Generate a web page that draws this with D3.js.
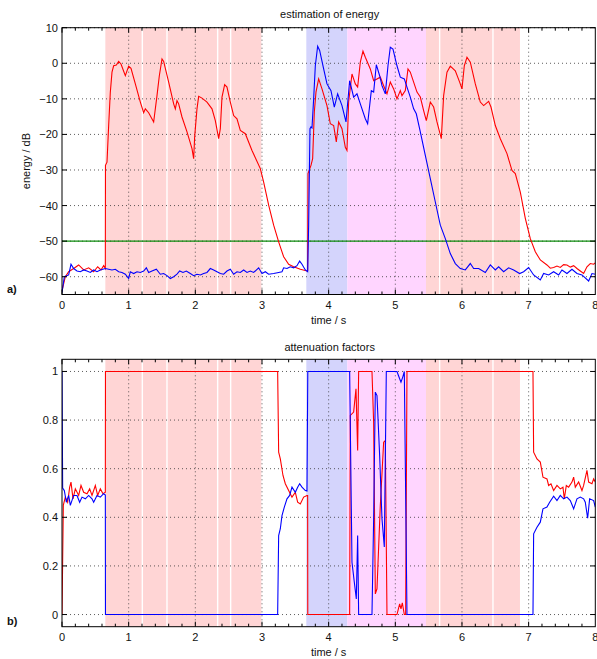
<!DOCTYPE html>
<html lang="en">
<head>
<meta charset="UTF-8">
<title>energy and attenuation</title>
<script src="https://d3js.org/d3.v7.min.js"></script>
<style>
  body { margin: 0; background: #fff; }
  text { font-family: "Liberation Sans", Arial, Helvetica, sans-serif; fill: #111; }
</style>
</head>
<body>
<script>
// ---- data ----
const timeTicks = [0, 1, 2, 3, 4, 5, 6, 7, 8];
const dbTicks = [10, 0, -10, -20, -30, -40, -50, -60];
const attTicks = [0, 0.2, 0.4, 0.6, 0.8, 1];
const threshold = -50;

// shaded segments (time in s)
const pinkSpans = [[0.65, 2.99], [5.46, 6.87]];
const blueSpans = [[3.665, 4.28]];
const magentaSpans = [[4.28, 5.46]];
const gapTimes = [1.205, 1.575, 2.335, 2.53, 5.665, 6.465];

// energy estimate, red [t, dB]
const energyRed = [
  [0, -64], [0.05, -60], [0.1, -58.6], [0.175, -57.7], [0.25, -56.7], [0.325, -58.1], [0.4, -57.5],
  [0.475, -58.6], [0.535, -57.2], [0.585, -58.1], [0.625, -56.9], [0.65, -57.7],
  [0.652, -28.7], [0.675, -27.8], [0.7, -17.5], [0.725, -8.1], [0.75, -2.5], [0.775, -0.7], [0.815, -0.5],
  [0.85, 0.5], [0.885, -0.2], [0.95, -3.5], [1.0, -0.8], [1.035, -1.4], [1.1, -5.8], [1.175, -10.9],
  [1.225, -13.9], [1.25, -12.8], [1.3, -13.9], [1.375, -16.5], [1.425, -9.1], [1.46, -3.5], [1.5, 1.2],
  [1.525, 0.5], [1.6, -5.3], [1.675, -11.4], [1.7, -12.8], [1.725, -10.5], [1.75, -11.4], [1.8, -15.1],
  [1.875, -19.3], [1.95, -24], [1.975, -26.8], [1.99, -20.7], [2.025, -12.8], [2.05, -9.3], [2.1, -9.8],
  [2.175, -10.9], [2.25, -12.8], [2.3, -16.1], [2.35, -21.2], [2.375, -18.4], [2.4, -9.5], [2.44, -6.0],
  [2.475, -6.7], [2.525, -10.9], [2.575, -14.7], [2.625, -15.6], [2.675, -18.9], [2.75, -19.8],
  [2.85, -24.5], [2.975, -29.6], [3.025, -33.4], [3.1, -39.9], [3.175, -45.5], [3.25, -50.2],
  [3.325, -54.4], [3.4, -56.5], [3.475, -57.2], [3.575, -57.9], [3.675, -58.4], [3.685, -58.3],
  [3.69, -31], [3.735, -28.7], [3.76, -26.8], [3.785, -13.7], [3.81, -8.1], [3.85, -4.4], [3.9, -7.2],
  [3.975, -11.9], [4.025, -17], [4.075, -17.5], [4.115, -22.1], [4.15, -16.5], [4.2, -18.4], [4.25, -23.6],
  [4.275, -24.5], [4.3, -10.9], [4.35, -3.0], [4.4, -5.8], [4.435, -6.7], [4.475, 0.3], [4.515, 3.4],
  [4.55, 1.7], [4.625, -1.6], [4.675, -4.9], [4.725, -4.4], [4.775, -3.9], [4.825, -6.3], [4.875, -8.6],
  [4.925, -5.3], [4.975, -7.2], [5.025, -10], [5.075, -7.7], [5.1, -9.1], [5.15, -7.7], [5.19, -1.6],
  [5.225, -2.5], [5.275, -5.3], [5.325, -8.1], [5.375, -9.5], [5.425, -13.3], [5.465, -16.1],
  [5.525, -10.9], [5.575, -12.3], [5.625, -16.5], [5.69, -21.2], [5.725, -9.1], [5.775, -2.5],
  [5.825, -0.8], [5.9, -2.1], [5.965, -5.3], [6.0, -7.2], [6.035, -0.7], [6.075, 1.7], [6.125, 0.3],
  [6.2, -5.8], [6.275, -10.9], [6.325, -11.9], [6.4, -10.7], [6.435, -12.3], [6.5, -17.5], [6.575, -21.2],
  [6.675, -25.4], [6.75, -30.1], [6.8, -31], [6.875, -36.2], [6.95, -43.6], [7.025, -49.3], [7.1, -53],
  [7.175, -55.3], [7.275, -56.7], [7.325, -57.6], [7.375, -57.4], [7.425, -57.0], [7.475, -57.4],
  [7.525, -56.6], [7.575, -56.7], [7.625, -57.3], [7.675, -56.9], [7.725, -57.7], [7.775, -58.4],
  [7.825, -59.1], [7.875, -57.2], [7.925, -56.3], [7.975, -56.5], [8.0, -56.1]
];

// energy estimate, blue [t, dB]
const energyBlue = [
  [0, -64.5], [0.035, -60], [0.1, -59.5], [0.135, -56.5], [0.175, -57.7], [0.225, -58.4], [0.275, -58.6],
  [0.325, -58.1], [0.375, -58.4], [0.425, -58.8], [0.475, -58.1], [0.525, -58.6], [0.575, -58.1],
  [0.65, -57.7], [0.7, -57.9], [0.75, -58.1], [0.8, -57.9], [0.85, -58.6], [0.9, -58.8], [0.95, -59.3],
  [1.0, -60.5], [1.025, -58.6], [1.075, -59.1], [1.125, -58.6], [1.175, -58.8], [1.225, -58.4],
  [1.265, -57.5], [1.3, -58.8], [1.35, -58.4], [1.415, -57.9], [1.475, -59.3], [1.525, -59.1],
  [1.575, -59.7], [1.625, -60.5], [1.675, -60], [1.725, -59.3], [1.765, -58.4], [1.815, -58.8],
  [1.865, -58.4], [1.925, -59.1], [1.975, -59.7], [2.025, -59.3], [2.075, -59.5], [2.125, -59.1],
  [2.175, -58.8], [2.225, -57.7], [2.275, -58.1], [2.325, -58.6], [2.375, -59.1], [2.425, -59.3],
  [2.475, -58.4], [2.525, -57.9], [2.575, -59.3], [2.625, -58.6], [2.675, -58.8], [2.725, -58.1],
  [2.775, -58.8], [2.825, -58.4], [2.875, -58.8], [2.95, -57.5], [3.0, -59.1], [3.05, -58.6],
  [3.1, -59.3], [3.175, -59.1], [3.25, -58.8], [3.3, -58.6], [3.325, -57.5], [3.375, -57.7],
  [3.425, -57.2], [3.475, -57.5], [3.525, -56.9], [3.565, -55.6], [3.6, -56.5], [3.65, -58.1],
  [3.685, -58.6], [3.7, -45.5], [3.72, -18.4], [3.735, -17.9], [3.75, -18.2], [3.775, -10], [3.8, -0.7],
  [3.835, 4.8], [3.865, 3.6], [3.925, -1.6], [3.975, -5.8], [4.035, -7.7], [4.085, -12.3], [4.135, -8.6],
  [4.2, -11.9], [4.26, -16.5], [4.315, -4.9], [4.375, -9.5], [4.425, -8.6], [4.475, -11.4], [4.55, -15.6],
  [4.585, -17], [4.64, -7.7], [4.675, -8.1], [4.715, -0.4], [4.765, -3.5], [4.8, -6.3], [4.85, -8.6],
  [4.89, -0.7], [4.925, 4.5], [4.965, 4.0], [5.025, -0.7], [5.075, -3.9], [5.135, -4.4], [5.175, -6.7],
  [5.225, -9.5], [5.275, -12.8], [5.315, -14.2], [5.375, -19.3], [5.45, -25.9], [5.525, -32.4],
  [5.6, -39], [5.675, -45.5], [5.75, -49.3], [5.825, -53.5], [5.9, -56.3], [5.975, -57.7], [6.05, -58.1],
  [6.125, -56.3], [6.175, -57.7], [6.25, -57.7], [6.35, -58.8], [6.425, -56.7], [6.5, -58.1],
  [6.55, -57.2], [6.625, -58.6], [6.7, -57.5], [6.775, -58.1], [6.865, -59.1], [6.925, -58.6],
  [7.0, -57.4], [7.075, -59.5], [7.175, -60.9], [7.225, -59.1], [7.3, -59.5], [7.375, -58.6],
  [7.45, -59.5], [7.5, -58.1], [7.575, -59.1], [7.65, -57.9], [7.725, -59.1], [7.8, -59.5],
  [7.9, -61.2], [7.95, -59.1], [8.0, -59.3]
];

// attenuation factors, red [t, factor]
const attRed = [
  [0, 0], [0.02, 0.45], [0.05, 0.483], [0.085, 0.462], [0.115, 0.524], [0.135, 0.545], [0.165, 0.476],
  [0.2, 0.517], [0.25, 0.49], [0.285, 0.531], [0.325, 0.503], [0.375, 0.497], [0.415, 0.517],
  [0.45, 0.49], [0.5, 0.531], [0.535, 0.49], [0.575, 0.517], [0.615, 0.497], [0.65, 0.503],
  [0.652, 1], [3.235, 1], [3.25, 0.668], [3.275, 0.64], [3.315, 0.572], [3.35, 0.538], [3.4, 0.51],
  [3.45, 0.483], [3.5, 0.503], [3.535, 0.462], [3.575, 0.455], [3.625, 0.483], [3.675, 0.49],
  [3.685, 0.49], [3.687, 0], [4.315, 0], [4.325, 0.819], [4.375, 0.833], [4.41, 0.929], [4.435, 0.675],
  [4.45, 1], [4.65, 1], [4.675, 0.79], [4.7, 0.085], [4.725, 0.106], [4.775, 0.449], [4.825, 0.709],
  [4.85, 0.716], [4.875, 0], [5.025, 0], [5.065, 0.044], [5.085, 0.023], [5.105, 0.048], [5.135, 0],
  [5.155, 0], [5.175, 1], [7.065, 1], [7.075, 0.668], [7.125, 0.64], [7.175, 0.627], [7.215, 0.565],
  [7.275, 0.558], [7.3, 0.531], [7.335, 0.538], [7.375, 0.51], [7.425, 0.531], [7.475, 0.517],
  [7.515, 0.524], [7.535, 0.476], [7.565, 0.531], [7.6, 0.524], [7.65, 0.545], [7.675, 0.565],
  [7.7, 0.524], [7.75, 0.545], [7.8, 0.51], [7.825, 0.531], [7.875, 0.593], [7.9, 0.545],
  [7.95, 0.538], [7.975, 0.558], [8.0, 0.545]
];

// attenuation factors, blue [t, factor]
const attBlue = [
  [0, 1], [0.01, 0.52], [0.035, 0.51], [0.065, 0.462], [0.1, 0.49], [0.125, 0.449], [0.175, 0.49],
  [0.225, 0.49], [0.265, 0.462], [0.3, 0.483], [0.35, 0.476], [0.4, 0.49], [0.45, 0.476], [0.475, 0.462],
  [0.525, 0.49], [0.575, 0.483], [0.625, 0.497], [0.65, 0.492], [0.652, 0], [3.235, 0], [3.25, 0.325],
  [3.275, 0.353], [3.3, 0.407], [3.335, 0.442], [3.375, 0.476], [3.415, 0.49], [3.45, 0.524],
  [3.5, 0.503], [3.535, 0.524], [3.565, 0.538], [3.6, 0.524], [3.65, 0.51], [3.675, 0.508],
  [3.687, 1], [4.315, 1], [4.35, 0.215], [4.385, 0.133], [4.415, 0.064], [4.435, 0.325], [4.45, 0],
  [4.65, 0], [4.675, 0.394], [4.7, 0.915], [4.725, 0.901], [4.765, 0.654], [4.8, 0.394], [4.835, 0.278],
  [4.865, 1], [5.025, 1], [5.065, 0.97], [5.085, 0.956], [5.115, 0.98], [5.135, 1], [5.175, 0],
  [7.065, 0], [7.075, 0.332], [7.125, 0.359], [7.175, 0.38], [7.215, 0.435], [7.275, 0.442],
  [7.315, 0.462], [7.375, 0.487], [7.425, 0.469], [7.475, 0.49], [7.525, 0.476], [7.575, 0.483],
  [7.625, 0.469], [7.675, 0.435], [7.725, 0.476], [7.775, 0.483], [7.825, 0.476], [7.85, 0.462],
  [7.885, 0.396], [7.915, 0.476], [7.975, 0.469], [8.0, 0.442]
];

// ---- drawing ----
const W = 597, H = 659;
const svg = d3.select("body").append("svg")
    .attr("width", W)
    .attr("height", H);

const x = d3.scaleLinear().domain([0, 8]).range([62, 595.3]);

function panel(id, yScale, yTicks, yFmt, title, titleY, letter, redData, blueData, extra) {
    const [y0, y1] = yScale.range();   // bottom, top
    const g = svg.append("g");

    g.append("clipPath").attr("id", id)
      .append("rect")
        .attr("x", x(0)).attr("y", y1)
        .attr("width", x(8) - x(0)).attr("height", y0 - y1);

    // shaded regions
    const shade = (spans, color) => g.selectAll(null)
        .data(spans).enter().append("rect")
        .attr("x", d => x(d[0]))
        .attr("y", y1)
        .attr("width", d => x(d[1]) - x(d[0]))
        .attr("height", y0 - y1)
        .attr("fill", color);
    shade(pinkSpans, "#ffd5d5");
    shade(blueSpans, "#d4d4fc");
    shade(magentaSpans, "#ffd5ff");
    g.selectAll(null).data(gapTimes).enter().append("line")
        .attr("x1", d => x(d)).attr("x2", d => x(d))
        .attr("y1", y1).attr("y2", y0)
        .attr("stroke", "#fff").attr("stroke-width", 1.4);

    // grid
    g.selectAll(null).data(timeTicks.slice(1, -1)).enter().append("line")
        .attr("x1", d => x(d)).attr("x2", d => x(d))
        .attr("y1", y1).attr("y2", y0)
        .attr("stroke", "#333").attr("stroke-width", 0.8)
        .attr("stroke-dasharray", "1,3");
    g.selectAll(null).data(yTicks).enter().append("line")
        .attr("x1", x(0)).attr("x2", x(8))
        .attr("y1", d => yScale(d)).attr("y2", d => yScale(d))
        .attr("stroke", "#333").attr("stroke-width", 0.8)
        .attr("stroke-dasharray", "1,3");

    if (extra) extra(g);

    const line = d3.line().x(d => x(d[0])).y(d => yScale(d[1]));
    g.append("path").datum(redData)
        .attr("d", line).attr("fill", "none")
        .attr("stroke", "#ff0000").attr("stroke-width", 1.1)
        .attr("clip-path", `url(#${id})`);
    g.append("path").datum(blueData)
        .attr("d", line).attr("fill", "none")
        .attr("stroke", "#0000ff").attr("stroke-width", 1.1)
        .attr("clip-path", `url(#${id})`);

    // frame
    g.append("rect")
        .attr("x", x(0)).attr("y", y1)
        .attr("width", x(8) - x(0)).attr("height", y0 - y1)
        .attr("fill", "none").attr("stroke", "#000").attr("stroke-width", 1);

    // inward ticks
    const minor = d3.range(0, 40).map(i => i * 0.2);
    g.selectAll(null).data(minor).enter().append("line")
        .attr("x1", d => x(d)).attr("x2", d => x(d))
        .attr("y1", y0).attr("y2", d => y0 - (Number.isInteger(Math.round(d * 1000) / 1000) ? 5 : 3))
        .attr("stroke", "#000");
    g.selectAll(null).data(minor).enter().append("line")
        .attr("x1", d => x(d)).attr("x2", d => x(d))
        .attr("y1", y1).attr("y2", d => y1 + (Number.isInteger(Math.round(d * 1000) / 1000) ? 5 : 3))
        .attr("stroke", "#000");
    g.selectAll(null).data(yTicks).enter().append("line")
        .attr("x1", x(0)).attr("x2", x(0) + 5)
        .attr("y1", d => yScale(d)).attr("y2", d => yScale(d))
        .attr("stroke", "#000");
    g.selectAll(null).data(yTicks).enter().append("line")
        .attr("x1", x(8)).attr("x2", x(8) - 5)
        .attr("y1", d => yScale(d)).attr("y2", d => yScale(d))
        .attr("stroke", "#000");

    // tick labels
    g.selectAll(null).data(timeTicks).enter().append("text")
        .attr("x", d => x(d)).attr("y", y0 + 14.5)
        .attr("text-anchor", "middle").attr("font-size", 11)
        .text(d => d);
    g.selectAll(null).data(yTicks).enter().append("text")
        .attr("x", 58).attr("y", d => yScale(d) + 4)
        .attr("text-anchor", "end").attr("font-size", 11)
        .text(yFmt);

    g.append("text").attr("x", (x(0) + x(8)) / 2).attr("y", y0 + 29.5)
        .attr("text-anchor", "middle").attr("font-size", 11).text("time / s");
    g.append("text").attr("x", (x(0) + x(8)) / 2 + 1).attr("y", titleY)
        .attr("text-anchor", "middle").attr("font-size", 11).text(title);
    g.append("text").attr("x", 7).attr("y", y0 - 2)
        .attr("font-size", 11).attr("font-weight", "bold").text(letter);
}

const yDb = d3.scaleLinear().domain([-65, 10]).range([294.5, 27.7]);
const yAtt = d3.scaleLinear().domain([-0.05, 1.05]).range([626.7, 359.3]);

panel("clipA", yDb, dbTicks, d => d < 0 ? "\u2212" + Math.abs(d) : d,
      "estimation of energy", 17.5, "a)", energyRed, energyBlue, g => {
    g.append("line")
        .attr("x1", x(0)).attr("x2", x(8))
        .attr("y1", yDb(threshold)).attr("y2", yDb(threshold))
        .attr("stroke", "#0a8a0a").attr("stroke-width", 1.2);
});

svg.append("text")
    .attr("transform", `translate(30,${yDb(-27.5)}) rotate(-90)`)
    .attr("text-anchor", "middle").attr("font-size", 11)
    .text("energy / dB");

panel("clipB", yAtt, attTicks, d => d, "attenuation factors", 350.5, "b)", attRed, attBlue, null);
</script>
</body>
</html>
